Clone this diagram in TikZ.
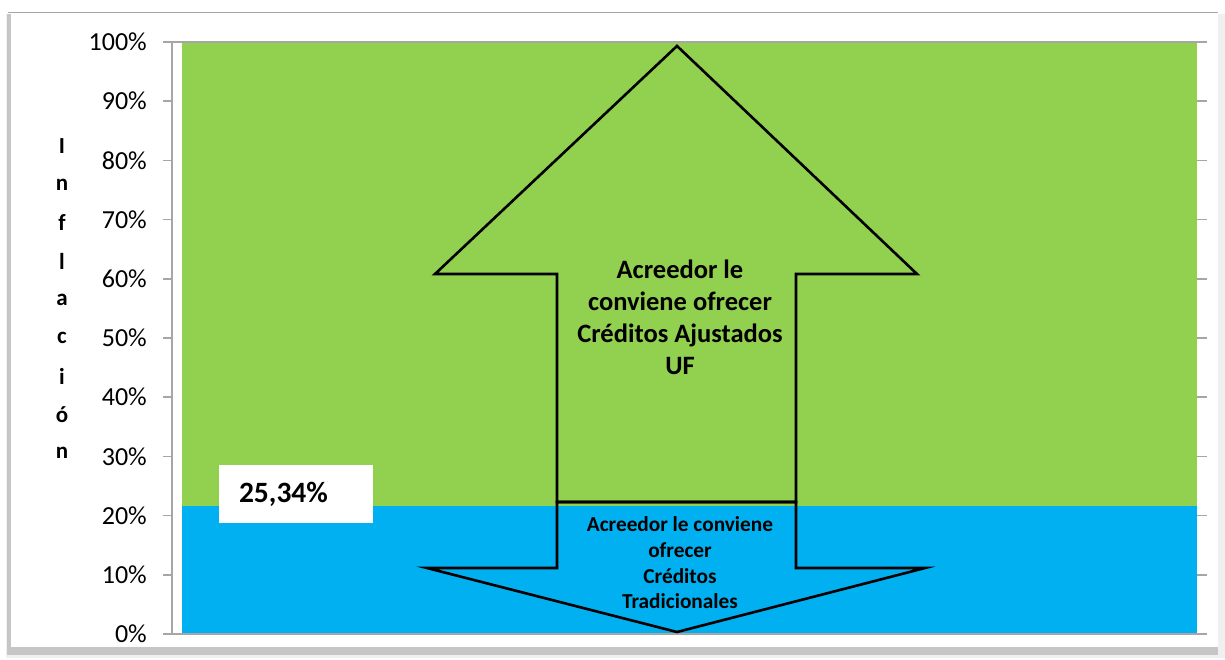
\documentclass[tikz,border=0pt]{standalone}
\usepackage{fontspec}
\setmainfont{Carlito}
\usepackage{tikz}

\definecolor{verde}{HTML}{92D050}
\definecolor{celeste}{HTML}{00B0F0}
\definecolor{gris}{HTML}{A6A6A6}

\begin{document}
\begin{tikzpicture}[x=1pt,y=-1pt,
  eje/.style={gris, line width=1.6pt},
  flecha/.style={black, line width=2.6pt, line join=miter},
  etiqueta/.style={anchor=east, inner sep=0pt, font=\fontsize{26}{30}\selectfont},
  letra/.style={inner sep=0pt, font=\bfseries\fontsize{23}{27}\selectfont}]
\useasboundingbox (0,0) rectangle (1225,659);

% Marco
\fill[gray!12] (6,14) rectangle (1225,658);
\fill[gray!45] (7,14) rectangle (1218,655);
\fill[white] (11,12) rectangle (1218,647);
\draw[gray!70, line width=0.8pt] (8,12) -- (1218,12);

% Zonas
\fill[verde] (182,42) rectangle (1197,506);
\fill[celeste] (182,506) rectangle (1197,634);

% Ejes
\draw[eje] (172,42) -- (172,634);
\draw[eje] (163,42) -- (1207,42);
\draw[eje] (163,634) -- (1207,634);
\foreach \p in {0,10,...,100} {
  \draw[eje] (163,{634-5.92*\p}) -- (172,{634-5.92*\p});
  \draw[eje] (1197,{634-5.92*\p}) -- (1207,{634-5.92*\p});
  \node[etiqueta] (p\p) at (147,{634-5.92*\p}) {\p\%};
}

% Titulo vertical
\foreach \l [count=\k] in {I,n,f,l,a,c,i,ó,n}
  \node[letra] (v\k) at (62,{146+38.4*(\k-1)}) {\l};

% Valor
\node[fill=white, minimum height=58pt, text width=114pt, inner xsep=20pt,
  align=left, font=\bfseries\fontsize{29.5}{34}\selectfont] (valor) at (296,494) {25,34\%};

% Flecha arriba
\draw[flecha] (677,46) -- (917,274) -- (796,274) -- (796,502) -- (557,502)
  -- (557,274) -- (435,274) -- cycle;
\node[align=center, font=\bfseries\fontsize{26.5}{32}\selectfont] (arriba) at (680,317)
  {Acreedor le\\conviene ofrecer\\Créditos Ajustados\\UF};

% Flecha abajo
\draw[flecha] (557,502) -- (796,502) -- (796,568) -- (925,568) -- (677,632)
  -- (427,568) -- (557,568) -- cycle;
\node[align=center, font=\bfseries\fontsize{21.3}{25.7}\selectfont] (abajo) at (680,563)
  {Acreedor le conviene\\ofrecer\\Créditos\\Tradicionales};

\end{tikzpicture}
\end{document}
